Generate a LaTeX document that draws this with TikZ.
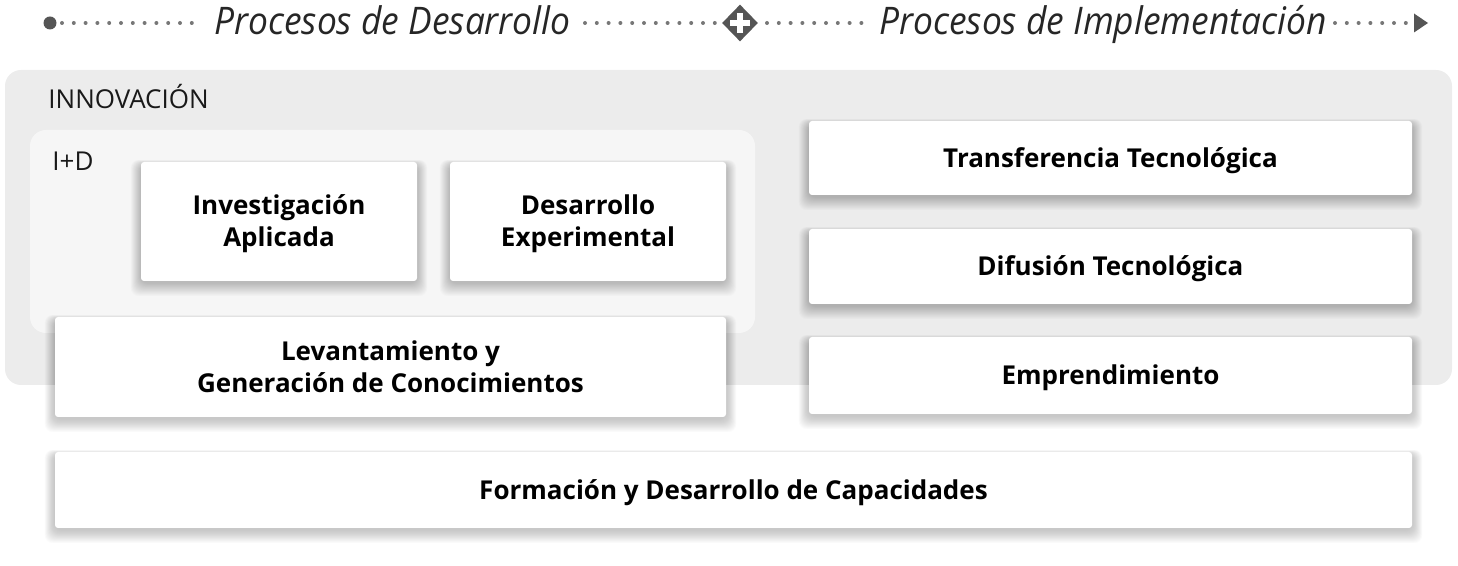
\documentclass[tikz,border=0pt]{standalone}
\usepackage{fontspec}
\setmainfont{Open Sans}
\newfontfamily\headfont{Open Sans}[FakeStretch=0.93]
\usetikzlibrary{shapes.geometric}
\definecolor{outerbg}{HTML}{ECECEC}
\definecolor{innerbg}{HTML}{F6F6F6}
\definecolor{dotc}{HTML}{777777}
\definecolor{markc}{HTML}{555555}
\pgfdeclarelayer{bottom}
\pgfdeclarelayer{shade}
\pgfsetlayers{bottom,shade,main}
\tikzset{
  card/.style={draw=none, fill=white, rounded corners=1.5pt,
    font=\fontsize{13}{16}\selectfont\bfseries, align=center, inner sep=0pt,
    text height=9.3pt, text depth=0pt},
  twoline/.style={text height=25.3pt},
  dotline/.style={dotc, line width=2pt, dash pattern=on 0pt off 5.9pt, line cap=round},
  headtext/.style={font=\headfont\fontsize{19}{22}\selectfont\itshape, text=black!85, inner sep=0pt},
  plaintext/.style={font=\fontsize{13}{15}\selectfont, inner sep=0pt, text=black!90}
}
\newcommand\cardshade[1]{%
  \begin{pgfonlayer}{shade}
  \foreach \i in {1,...,20}{
    \fill[black, opacity=0.0105, rounded corners=4pt]
      ([xshift=-\i*0.25pt, yshift=-0.8pt-\i*0.33pt]#1.south west)
      rectangle ([xshift=\i*0.25pt, yshift=-1.5pt+\i*0.12pt]#1.north east);
  }
  \end{pgfonlayer}}
\begin{document}
\begin{tikzpicture}[x=0.5pt,y=-0.5pt]
\useasboundingbox (0,0) rectangle (1458,566);
\begin{pgfonlayer}{bottom}
\fill[outerbg, rounded corners=8pt] (5,70) rectangle (1452,385);
\fill[innerbg, rounded corners=8pt] (30,130) rectangle (755,333);
\end{pgfonlayer}
\node[plaintext, anchor=base west] (innov) at (48,109) {INNOVACIÓN};
\node[plaintext, anchor=base west] (id) at (52,171) {I+D};
% cards
\node[card, twoline, minimum width=138pt, minimum height=59.5pt] (inv) at (279,221.5) {Investigación\\Aplicada};
\node[card, twoline, minimum width=138pt, minimum height=59.5pt] (des) at (588,221.5) {Desarrollo\\Experimental};
\node[card, twoline, minimum width=335.5pt, minimum height=50pt] (lev) at (390.5,367) {Levantamiento y\\Generación de Conocimientos};
\node[card, minimum width=301.5pt, minimum height=37pt] (tra) at (1110.5,158) {Transferencia Tecnológica};
\node[card, minimum width=301.5pt, minimum height=37.5pt] (dif) at (1110.5,266.5) {Difusión Tecnológica};
\node[card, minimum width=301.5pt, minimum height=38.5pt] (emp) at (1110.5,375.5) {Emprendimiento};
\node[card, minimum width=678.5pt, minimum height=38pt] (for) at (733.5,490) {Formación y Desarrollo de Capacidades};
\cardshade{inv}\cardshade{des}\cardshade{lev}\cardshade{tra}\cardshade{dif}\cardshade{emp}\cardshade{for}
% header
\node[circle, fill=markc, minimum size=6.5pt, inner sep=0pt] (start) at (50,23) {};
\node[headtext, anchor=base west] (pd) at (214,35) {Procesos de Desarrollo};
\node[diamond, fill=markc, minimum width=18pt, minimum height=18.5pt, inner sep=0pt, aspect=1] (plus) at (740,23) {};
\fill[white] (plus.center) ++(-5pt,-1.5pt) rectangle ++(10pt,3pt);
\fill[white] (plus.center) ++(-1.5pt,-5pt) rectangle ++(3pt,10pt);
\node[headtext, anchor=base west] (pi) at (879,35) {Procesos de Implementación};
\coordinate (tipbase) at (1414,23);
\fill[markc] (tipbase) ++(0,4.75pt) -- ++(7pt,-4.75pt) -- ++(-7pt,-4.75pt) -- cycle;
\coordinate (d1a) at (62,23);   \coordinate (d1b) at (201,23);
\coordinate (d2a) at (585,23);  \coordinate (d2b) at (720,23);
\coordinate (d3a) at (767,23);  \coordinate (d3b) at (863,23);
\coordinate (d4a) at (1335,23); \coordinate (d4b) at (1407,23);
\draw[dotline] (d1a) -- (d1b);
\draw[dotline] (d2a) -- (d2b);
\draw[dotline] (d3a) -- (d3b);
\draw[dotline] (d4a) -- (d4b);
\end{tikzpicture}
\end{document}
